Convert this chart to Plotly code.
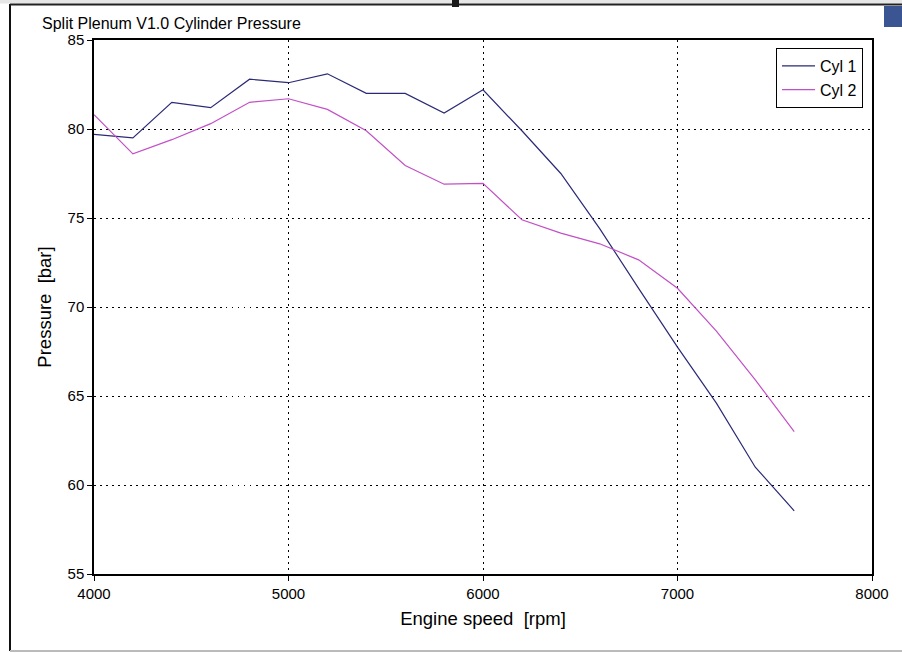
import plotly.graph_objects as go

# Engine speed sweep (rpm) and peak cylinder pressure (bar) per cylinder
rpm = [4000, 4200, 4400, 4600, 4800, 5000, 5200, 5400, 5600, 5800,
       6000, 6200, 6400, 6600, 6800, 7000, 7200, 7400, 7600]
cyl1 = [79.7, 79.5, 81.5, 81.2, 82.8, 82.6, 83.1, 82.0, 82.0, 80.9,
        82.2, 79.9, 77.5, 74.4, 71.05, 67.75, 64.6, 61.0, 58.55]
cyl2 = [80.8, 78.6, 79.4, 80.3, 81.5, 81.7, 81.1, 79.9, 77.95, 76.9,
        76.95, 74.9, 74.15, 73.55, 72.65, 71.05, 68.65, 65.9, 63.0]

x_ticks = [4000, 5000, 6000, 7000, 8000]
y_ticks = [55, 60, 65, 70, 75, 80, 85]

FONT = "Liberation Sans, Arial, Helvetica, sans-serif"

fig = go.Figure()
fig.add_trace(go.Scatter(x=rpm, y=cyl1, mode="lines", name="Cyl 1",
                         line=dict(color="#2a2a76", width=1.2)))
fig.add_trace(go.Scatter(x=rpm, y=cyl2, mode="lines", name="Cyl 2",
                         line=dict(color="#c250c6", width=1.2)))

axis_common = dict(
    showline=True, linecolor="black", linewidth=1.5, mirror=True,
    ticks="outside", ticklen=5, tickcolor="black", tickwidth=1,
    showgrid=True, gridcolor="black", gridwidth=1.2, griddash="1.5px,4.5px",
    zeroline=False, tickfont=dict(family=FONT, size=15, color="black"),
)

fig.update_xaxes(range=[4000, 8000], tickvals=x_ticks,
                 ticktext=[str(v) for v in x_ticks],
                 title=dict(text="Engine speed&nbsp;&nbsp;[rpm]",
                            font=dict(family=FONT, size=18.5, color="black"),
                            standoff=11),
                 **axis_common)
fig.update_yaxes(range=[55, 85], tickvals=y_ticks,
                 ticktext=[str(v) for v in y_ticks],
                 title=dict(text="Pressure&nbsp;&nbsp;[bar]",
                            font=dict(family=FONT, size=18.5, color="black"),
                            standoff=11),
                 **axis_common)

# plot area spans roughly px 94..872 horizontally and 40..574 vertically
L, R, T, B = 94, 872, 40, 574
W, H = 902, 653


def px(xp):
    return (xp - L) / (R - L)


def py(yp):
    return (B - yp) / (B - T)


shapes = [
    # outer window frame
    dict(type="rect", xref="paper", yref="paper", x0=px(0), x1=px(902),
         y0=py(0), y1=py(3.5), line=dict(width=0), fillcolor="#e6e6e6",
         layer="below"),
    dict(type="line", xref="paper", yref="paper", x0=px(10), x1=px(10),
         y0=py(4), y1=py(651), line=dict(color="#111111", width=2)),
    dict(type="line", xref="paper", yref="paper", x0=px(10), x1=px(902),
         y0=py(4.5), y1=py(4.5), line=dict(color="#222222", width=2)),
    dict(type="line", xref="paper", yref="paper", x0=px(10), x1=px(902),
         y0=py(651), y1=py(651), line=dict(color="#bbbbbb", width=2)),
    # small dark tab on the top edge
    dict(type="rect", xref="paper", yref="paper", x0=px(452), x1=px(459),
         y0=py(7), y1=py(0), line=dict(width=0), fillcolor="#1a1a1a"),
    # small window badge in the top-right corner
    dict(type="rect", xref="paper", yref="paper", x0=px(884), x1=px(902),
         y0=py(27), y1=py(6), line=dict(width=0), fillcolor="#3a5592"),
]

fig.update_layout(
    width=W, height=H,
    margin=dict(l=L, r=W - R, t=T, b=H - B),
    paper_bgcolor="white", plot_bgcolor="white",
    font=dict(family=FONT, color="black"),
    showlegend=True,
    legend=dict(x=px(863), y=py(48), xanchor="right", yanchor="top",
                bgcolor="white", bordercolor="black", borderwidth=1,
                font=dict(family=FONT, size=16, color="black"),
                itemwidth=33, tracegroupgap=0),
    shapes=shapes,
    annotations=[
        dict(text="Split Plenum V1.0 Cylinder Pressure", xref="paper",
             yref="paper", x=px(40), y=py(24), xanchor="left",
             yanchor="middle", showarrow=False,
             font=dict(family=FONT, size=16, color="black")),
    ],
)

fig.write_html("out.html")
